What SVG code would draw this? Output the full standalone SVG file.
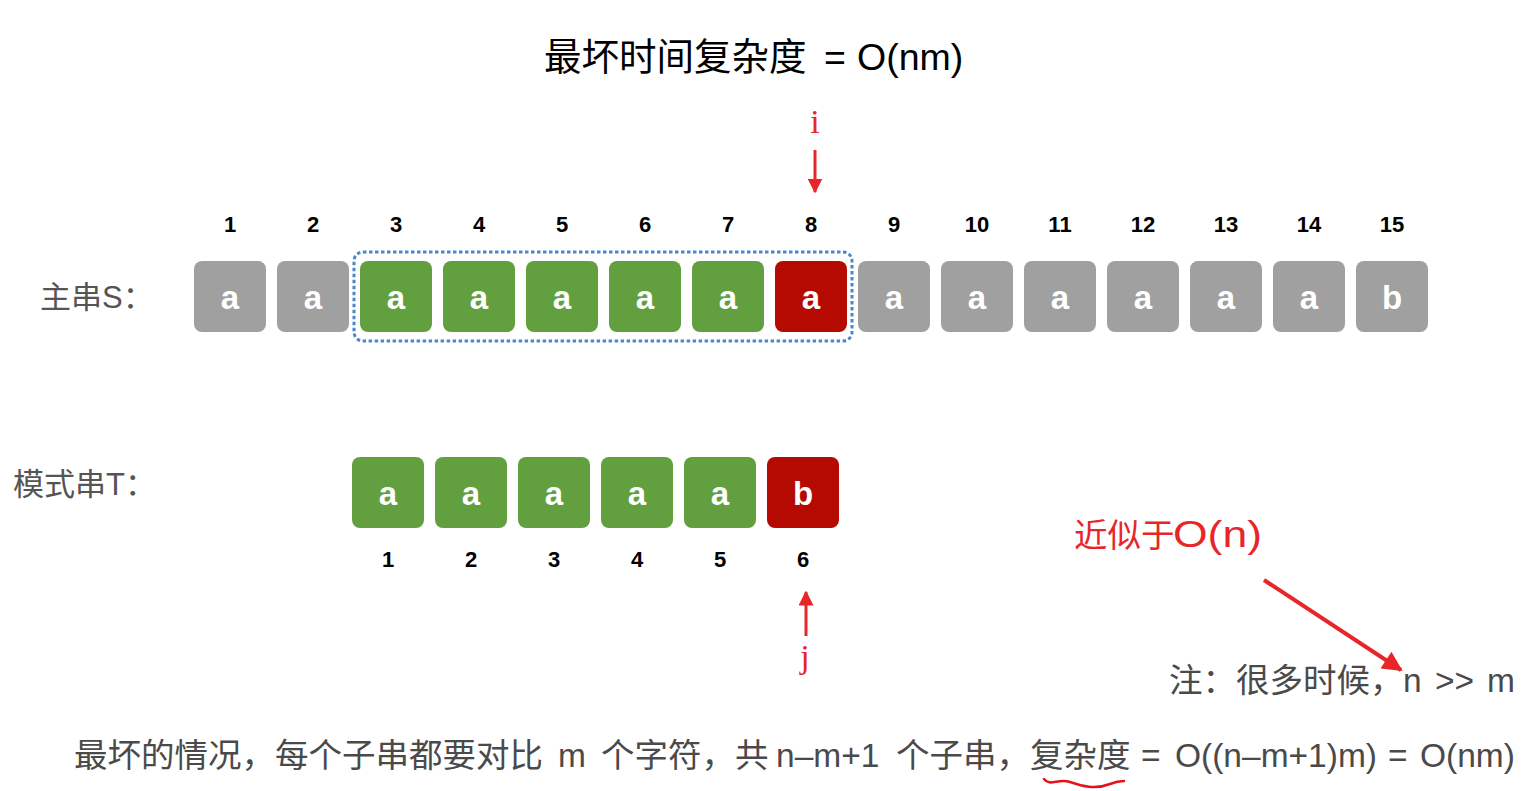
<svg xmlns="http://www.w3.org/2000/svg" width="1538" height="791" viewBox="0 0 1538 791">
<defs>
<style>
.box{stroke:none}
.g{fill:#a0a0a0}
.gr{fill:#62a03f}
.r{fill:#b40a02}
.ch{font-family:"Liberation Sans",Arial,sans-serif;font-weight:bold;font-size:33px;fill:#fff;text-anchor:middle}
.num{font-family:"Liberation Sans",Arial,sans-serif;font-weight:bold;font-size:22px;fill:#000;text-anchor:middle}
.lbl{font-family:"Liberation Sans","Noto Sans CJK SC",sans-serif;font-size:31px;fill:#555}
.title{font-family:"Liberation Sans","Noto Sans CJK SC",sans-serif;font-size:37.5px;fill:#000}
.note{font-family:"Liberation Sans","Noto Sans CJK SC",sans-serif;font-size:33.5px;fill:#4a4a4a}
.red{font-family:"Liberation Sans","Noto Sans CJK SC",sans-serif;font-size:33.5px;fill:#e8262a}
.ij{font-family:"Liberation Serif","Times New Roman",serif;font-size:34px;fill:#e8262a;text-anchor:middle}
</style>
<marker id="ah" viewBox="0 0 10 10" refX="9" refY="5" markerWidth="5" markerHeight="5" orient="auto" markerUnits="strokeWidth">
<path d="M0,0 L10,5 L0,10 z" fill="#e8262a"/>
</marker>
<marker id="ah2" viewBox="0 0 10 10" refX="9" refY="5" markerWidth="5.5" markerHeight="5" orient="auto" markerUnits="strokeWidth">
<path d="M0,0 L10,5 L0,10 z" fill="#e8262a"/>
</marker>
</defs>
<rect width="1538" height="791" fill="#fff"/>

<g id="title"><text class="title" y="70"><tspan x="544">最坏时间复杂度</tspan><tspan x="824">=</tspan><tspan x="857">O(nm)</tspan></text></g>

<g id="label-S"><text class="lbl" x="40" y="308">主串S：</text></g>
<g id="label-T"><text class="lbl" x="13" y="495">模式串T：</text></g>

<g id="main-string">
<g id="s1"><text class="num" x="230" y="232">1</text><rect class="box g" x="194" y="261" width="72" height="71" rx="8"/><text class="ch" x="230" y="309">a</text></g>
<g id="s2"><text class="num" x="313" y="232">2</text><rect class="box g" x="277" y="261" width="72" height="71" rx="8"/><text class="ch" x="313" y="309">a</text></g>
<g id="s3"><text class="num" x="396" y="232">3</text><rect class="box gr" x="360" y="261" width="72" height="71" rx="8"/><text class="ch" x="396" y="309">a</text></g>
<g id="s4"><text class="num" x="479" y="232">4</text><rect class="box gr" x="443" y="261" width="72" height="71" rx="8"/><text class="ch" x="479" y="309">a</text></g>
<g id="s5"><text class="num" x="562" y="232">5</text><rect class="box gr" x="526" y="261" width="72" height="71" rx="8"/><text class="ch" x="562" y="309">a</text></g>
<g id="s6"><text class="num" x="645" y="232">6</text><rect class="box gr" x="609" y="261" width="72" height="71" rx="8"/><text class="ch" x="645" y="309">a</text></g>
<g id="s7"><text class="num" x="728" y="232">7</text><rect class="box gr" x="692" y="261" width="72" height="71" rx="8"/><text class="ch" x="728" y="309">a</text></g>
<g id="s8"><text class="num" x="811" y="232">8</text><rect class="box r" x="775" y="261" width="72" height="71" rx="8"/><text class="ch" x="811" y="309">a</text></g>
<g id="s9"><text class="num" x="894" y="232">9</text><rect class="box g" x="858" y="261" width="72" height="71" rx="8"/><text class="ch" x="894" y="309">a</text></g>
<g id="s10"><text class="num" x="977" y="232">10</text><rect class="box g" x="941" y="261" width="72" height="71" rx="8"/><text class="ch" x="977" y="309">a</text></g>
<g id="s11"><text class="num" x="1060" y="232">11</text><rect class="box g" x="1024" y="261" width="72" height="71" rx="8"/><text class="ch" x="1060" y="309">a</text></g>
<g id="s12"><text class="num" x="1143" y="232">12</text><rect class="box g" x="1107" y="261" width="72" height="71" rx="8"/><text class="ch" x="1143" y="309">a</text></g>
<g id="s13"><text class="num" x="1226" y="232">13</text><rect class="box g" x="1190" y="261" width="72" height="71" rx="8"/><text class="ch" x="1226" y="309">a</text></g>
<g id="s14"><text class="num" x="1309" y="232">14</text><rect class="box g" x="1273" y="261" width="72" height="71" rx="8"/><text class="ch" x="1309" y="309">a</text></g>
<g id="s15"><text class="num" x="1392" y="232">15</text><rect class="box g" x="1356" y="261" width="72" height="71" rx="8"/><text class="ch" x="1392" y="309">b</text></g>
</g>

<g id="window"><rect x="354" y="252" width="498" height="89" rx="9" fill="none" stroke="#4a88c9" stroke-width="3" stroke-dasharray="3.5 2.5"/></g>

<g id="pattern">
<g id="t1"><rect class="box gr" x="352" y="457" width="72" height="71" rx="8"/><text class="ch" x="388" y="505">a</text><text class="num" x="388" y="567">1</text></g>
<g id="t2"><rect class="box gr" x="435" y="457" width="72" height="71" rx="8"/><text class="ch" x="471" y="505">a</text><text class="num" x="471" y="567">2</text></g>
<g id="t3"><rect class="box gr" x="518" y="457" width="72" height="71" rx="8"/><text class="ch" x="554" y="505">a</text><text class="num" x="554" y="567">3</text></g>
<g id="t4"><rect class="box gr" x="601" y="457" width="72" height="71" rx="8"/><text class="ch" x="637" y="505">a</text><text class="num" x="637" y="567">4</text></g>
<g id="t5"><rect class="box gr" x="684" y="457" width="72" height="71" rx="8"/><text class="ch" x="720" y="505">a</text><text class="num" x="720" y="567">5</text></g>
<g id="t6"><rect class="box r" x="767" y="457" width="72" height="71" rx="8"/><text class="ch" x="803" y="505">b</text><text class="num" x="803" y="567">6</text></g>
</g>

<g id="label-i"><text class="ij" x="815" y="133">i</text></g>
<g id="label-j"><text class="ij" x="805" y="668">j</text></g>
<g id="label-approx"><text class="red" y="547"><tspan x="1074">近似于</tspan><tspan x="1173" font-size="36" textLength="89" lengthAdjust="spacingAndGlyphs">O(n)</tspan></text></g>
<g id="note"><text class="note" y="692"><tspan x="1169">注：很多时候，</tspan><tspan x="1403">n</tspan><tspan x="1435">&gt;&gt;</tspan><tspan x="1487">m</tspan></text></g>
<g id="summary"><text class="note" y="767"><tspan x="74">最坏的情况，每个子串都要对比</tspan><tspan x="558">m</tspan><tspan x="601">个字符，共</tspan><tspan x="776">n–m+1</tspan><tspan x="896">个子串，</tspan><tspan x="1030">复杂度</tspan><tspan x="1141">=</tspan><tspan x="1175">O((n–m+1)m)</tspan><tspan x="1388">=</tspan><tspan x="1420">O(nm)</tspan></text></g>

<g id="connectors" fill="none" stroke="#e8262a">
<line x1="815" y1="150" x2="815" y2="192" stroke-width="3" marker-end="url(#ah)"/>
<line x1="806" y1="636" x2="806" y2="592" stroke-width="3" marker-end="url(#ah)"/>
<line x1="1264" y1="580" x2="1401" y2="670" stroke-width="4" marker-end="url(#ah2)"/>
<path d="M1044,779 C1050,787 1058,778 1070,782 C1082,786 1095,790 1110,784 C1115,782 1120,781 1124,781" stroke="#e0141a" stroke-width="2.5" stroke-linecap="round"/>
</g>
</svg>
